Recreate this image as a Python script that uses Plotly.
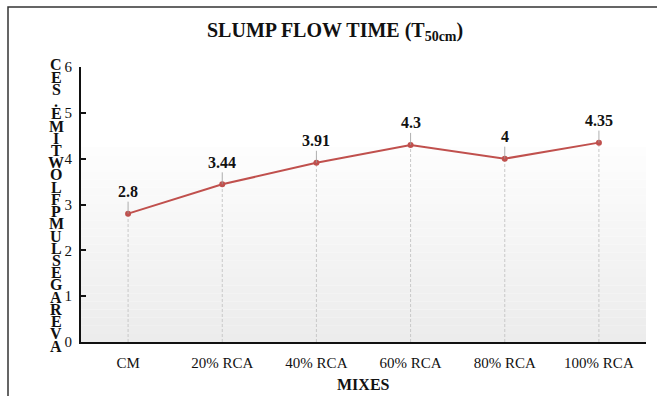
import plotly.graph_objects as go

mixes = ["CM", "20% RCA", "40% RCA", "60% RCA", "80% RCA", "100% RCA"]
flow_time = [2.8, 3.44, 3.91, 4.3, 4.0, 4.35]
value_labels = ["2.8", "3.44", "3.91", "4.3", "4", "4.35"]
y_ticks = [0, 1, 2, 3, 4, 5, 6]
title_text = "<b>SLUMP FLOW TIME (T<sub>50cm</sub>)</b>"
x_title = "MIXES"
y_title_letters = list("CES.EMITWOLFPMULSEGAREVA")  # stacked top-to-bottom as in the source

FONT = "Liberation Serif"
W, H = 657, 396
L, R, T, B = 81, 11, 67, 54
PW, PH = W - L - R, H - T - B

def px_x(px):
    return (px - L) / PW

def px_y(py):
    return (H - B - py) / PH

fig = go.Figure()

# drop lines (dashed) from axis to each point
dx, dy = [], []
for m, v in zip(mixes, flow_time):
    dx += [m, m, None]
    dy += [0, v, None]
fig.add_trace(go.Scatter(x=dx, y=dy, mode="lines",
                         line=dict(color="#c8c8c8", width=1, dash="3px,2px"),
                         hoverinfo="skip", showlegend=False))

fig.add_trace(go.Scatter(x=mixes, y=flow_time, mode="lines+markers",
                         line=dict(color="#c0504d", width=2),
                         marker=dict(color="#c0504d", size=6),
                         showlegend=False))

annotations = []
for m, v, t in zip(mixes, flow_time, value_labels):
    annotations.append(dict(x=m, y=v, xref="x", yref="y", text="<b>%s</b>" % t,
                            showarrow=True, arrowhead=0, arrowwidth=0.8,
                            arrowcolor="#9a9a9a", ax=0, ay=-22,
                            font=dict(family=FONT, size=16, color="#111")))

annotations.append(dict(x=px_x(335), y=px_y(31), xref="paper", yref="paper",
                        xanchor="center", yanchor="middle",
                        text=title_text, showarrow=False,
                        font=dict(family=FONT, size=20, color="#111")))
annotations.append(dict(x=0.5, y=px_y(384), xref="paper", yref="paper",
                        xanchor="center", yanchor="middle",
                        text="<b>%s</b>" % x_title, showarrow=False,
                        font=dict(family=FONT, size=16, color="#111")))

n = len(y_title_letters)
top_px, bot_px = 65, 346
for i, ch in enumerate(y_title_letters):
    py = top_px + (bot_px - top_px) * i / (n - 1)
    annotations.append(dict(x=px_x(56), y=px_y(py), xref="paper", yref="paper",
                            xanchor="center", yanchor="middle",
                            text="<b>%s</b>" % ch, showarrow=False,
                            font=dict(family=FONT, size=16, color="#111")))

shapes = []
# gradient background in lower part of plot area
g_top = px_y(147)
steps = 24
for i in range(steps):
    y0 = g_top * i / steps
    y1 = g_top * (i + 1) / steps
    frac = i / (steps - 1)
    c = int(round(236 + (253 - 236) * frac))
    shapes.append(dict(type="rect", xref="x domain", yref="y domain",
                       x0=0, x1=px_x(646), y0=y0, y1=y1,
                       fillcolor="rgb(%d,%d,%d)" % (c, c, c), line=dict(width=0),
                       layer="below"))
# outer frame
shapes.append(dict(type="rect", xref="paper", yref="paper",
                   x0=px_x(8), x1=px_x(680), y0=px_y(420), y1=px_y(7),
                   line=dict(color="#333", width=1.5), fillcolor="rgba(0,0,0,0)"))

fig.update_layout(
    width=W, height=H,
    margin=dict(l=L, r=R, t=T, b=B, pad=0),
    paper_bgcolor="white", plot_bgcolor="rgba(0,0,0,0)",
    font=dict(family=FONT, size=15, color="#111"),
    annotations=annotations, shapes=shapes,
    xaxis=dict(type="category", range=[-0.5, len(mixes) - 0.5],
               showgrid=False, zeroline=False,
               showline=True, linecolor="#111", linewidth=2,
               ticks="", tickfont=dict(family=FONT, size=15, color="#111"),
               ticklabelstandoff=6),
    yaxis=dict(range=[0, 6], tickvals=y_ticks, showgrid=False, zeroline=False,
               showline=True, linecolor="#111", linewidth=2,
               ticks="inside", ticklen=5, tickwidth=1.5, tickcolor="#111",
               tickfont=dict(family=FONT, size=15, color="#111"),
               ticklabelstandoff=4),
)

fig.write_html("out.html")
